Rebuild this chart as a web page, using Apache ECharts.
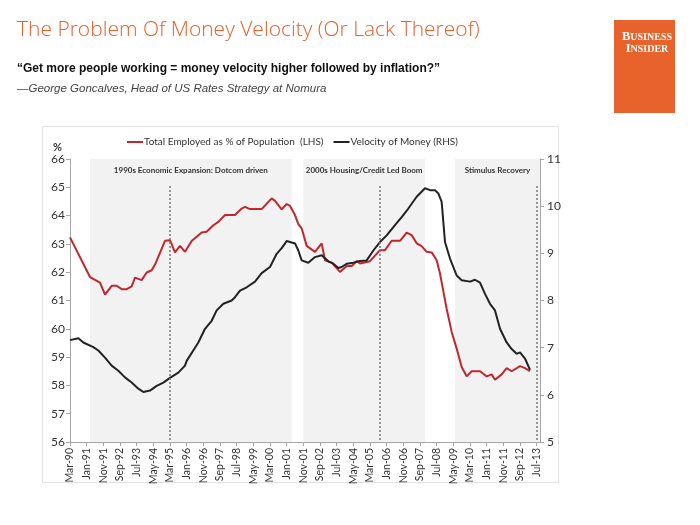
<!DOCTYPE html>
<html><head><meta charset="utf-8">
<script src="https://cdn.jsdelivr.net/npm/echarts@6/dist/echarts.min.js"></script>
<style>html,body{margin:0;padding:0;background:#fff;}#c{width:700px;height:525px;}</style>
</head><body><div id="c"></div>
<script>
// ---- Data ----
const empDates = ['Mar-90','Mar-91','Sep-91','Dec-91','Apr-92','Jul-92','Oct-92','Jan-93','Apr-93','Jun-93','Oct-93','Jan-94','Apr-94','Jun-94','Dec-94','Mar-95','Jun-95','Sep-95','Dec-95','Apr-96','Oct-96','Jan-97','May-97','Aug-97','Dec-97','Jun-98','Oct-98','Dec-98','Mar-99','Oct-99','Apr-00','Jun-00','Oct-00','Jan-01','Mar-01','Jun-01','Aug-01','Oct-01','Jan-02','Jun-02','Oct-02','Dec-02','Apr-03','Sep-03','Jan-04','Apr-04','Jul-04','Sep-04','Mar-05','Sep-05','Dec-05','Apr-06','Sep-06','Jan-07','Apr-07','Jul-07','Oct-07','Jan-08','Apr-08','Jul-08','Sep-08','Jan-09','Apr-09','Jul-09','Oct-09','Jan-10','Apr-10','Sep-10','Jan-11','Apr-11','Jun-11','Oct-11','Jan-12','Apr-12','Sep-12','Dec-12','Mar-13'];
const empValues = [63.23,61.83,61.63,61.21,61.52,61.52,61.40,61.40,61.50,61.81,61.72,61.99,62.07,62.27,63.11,63.13,62.70,62.93,62.72,63.10,63.40,63.43,63.66,63.78,64.02,64.02,64.25,64.31,64.23,64.23,64.61,64.52,64.22,64.41,64.34,64.02,63.70,63.55,62.93,62.72,63.02,62.42,62.34,62.01,62.22,62.22,62.39,62.31,62.39,62.78,62.78,63.11,63.11,63.40,63.31,63.02,62.92,62.72,62.70,62.42,61.95,60.71,59.89,59.30,58.65,58.32,58.50,58.50,58.32,58.39,58.20,58.39,58.61,58.50,58.68,58.61,58.50];

const velDates = ['Mar-90','Aug-90','Nov-90','May-91','Aug-91','Dec-91','Apr-92','Aug-92','Dec-92','Apr-93','Aug-93','Nov-93','Mar-94','Jul-94','Nov-94','Mar-95','Aug-95','Dec-95','Jan-96','Aug-96','Dec-96','Apr-97','Jul-97','Nov-97','Apr-98','Jun-98','Sep-98','Jan-99','Jun-99','Oct-99','Mar-00','Jul-00','Oct-00','Jan-01','Jun-01','Aug-01','Oct-01','Feb-02','Jun-02','Oct-02','Feb-03','May-03','Aug-03','Oct-03','Jan-04','May-04','Sep-04','Jan-05','May-05','Sep-05','Jan-06','Jun-06','Oct-06','Feb-07','Jul-07','Dec-07','Mar-08','Jun-08','Aug-08','Oct-08','Dec-08','Mar-09','Jul-09','Oct-09','Mar-10','Jun-10','Sep-10','Dec-10','Mar-11','Jun-11','Sep-11','Jan-12','Apr-12','Jul-12','Sep-12','Dec-12','Mar-13'];
const velValues = [7.16,7.20,7.11,7.01,6.94,6.79,6.62,6.51,6.37,6.26,6.13,6.06,6.09,6.19,6.26,6.36,6.47,6.62,6.72,7.11,7.40,7.57,7.79,7.93,8.00,8.07,8.21,8.28,8.40,8.58,8.71,8.99,9.11,9.26,9.21,9.06,8.85,8.80,8.92,8.96,8.83,8.78,8.69,8.71,8.78,8.80,8.84,8.85,9.06,9.24,9.38,9.60,9.77,9.95,10.20,10.38,10.34,10.34,10.27,10.09,9.24,8.89,8.53,8.43,8.40,8.44,8.38,8.14,7.93,7.79,7.40,7.11,6.97,6.87,6.90,6.77,6.53];

const periods = [
  {name:'1990s Economic Expansion: Dotcom driven', from:'Mar-91', to:'Apr-01'},
  {name:'2000s Housing/Credit Led Boom', from:'Nov-01', to:'Dec-07'},
  {name:'Stimulus Recovery', from:'Jun-09', to:'Sep-13'}
];
const recoveryMarks = ['Mar-95','Sep-05','Jul-13'];
const leftTicks = {min:56, max:66, interval:1};
const rightTicks = {min:5, max:11, interval:1};

// monthly category axis Mar-90 .. Sep-13
const MONTHS = ['Jan','Feb','Mar','Apr','May','Jun','Jul','Aug','Sep','Oct','Nov','Dec'];
const categories = [];
for (let m = 0; m <= 282; m++) {
  const k = 2 + m;
  const y = (1990 + Math.floor(k / 12)) % 100;
  categories.push(MONTHS[k % 12] + '-' + String(y).padStart(2, '0'));
}

const FONT = 'Lato, "Liberation Sans", sans-serif';
const RED = '#c1272d';
const chart = echarts.init(document.getElementById('c'), null, {renderer:'canvas'});

const empData = empDates.map((d, i) => [d, empValues[i]]);
const velData = velDates.map((d, i) => [d, velValues[i]]);

chart.setOption({
  animation: false,
  backgroundColor: '#fff',
  textStyle: {fontFamily: FONT},
  grid: {left: 70, right: 160, top: 159, bottom: 83},
  legend: {
    left: 122, top: 132, itemWidth: 16, itemHeight: 2, itemGap: 10, icon: 'rect',
    textStyle: {fontSize: 10, color: '#333', fontFamily: FONT, padding: [0,0,0,-4]},
    data: [
      {name: 'Total Employed as % of Population  (LHS)', itemStyle: {color: RED}},
      {name: 'Velocity of Money (RHS)', itemStyle: {color: '#222'}}
    ]
  },
  xAxis: {
    type: 'category', data: categories, boundaryGap: false,
    axisLine: {lineStyle: {color: '#a6a6a6'}},
    axisTick: {interval: 9, length: 4, lineStyle: {color: '#a6a6a6'}},
    axisLabel: {interval: 9, rotate: 90, fontSize: 10.5, color: '#333', margin: 6, fontFamily: FONT}
  },
  yAxis: [
    {type: 'value', min: leftTicks.min, max: leftTicks.max, interval: leftTicks.interval,
     name: '%', nameGap: 6, nameLocation: 'end',
     nameTextStyle: {fontSize: 11, fontWeight: 'bold', color: '#333', align: 'right', padding: [0, 8, 0, 0]},
     splitLine: {show: false},
     axisLine: {show: true, lineStyle: {color: '#a6a6a6'}},
     axisTick: {show: true, length: 4, lineStyle: {color: '#a6a6a6'}},
     axisLabel: {fontSize: 12, color: '#333', margin: 5, fontFamily: FONT}},
    {type: 'value', min: rightTicks.min, max: rightTicks.max, interval: rightTicks.interval,
     position: 'right', splitLine: {show: false},
     axisLine: {show: true, lineStyle: {color: '#a6a6a6'}},
     axisTick: {show: true, length: 4, lineStyle: {color: '#a6a6a6'}},
     axisLabel: {fontSize: 12, color: '#333', margin: 7, fontFamily: FONT}}
  ],
  series: [
    {
      name: 'Total Employed as % of Population  (LHS)', type: 'line', yAxisIndex: 0,
      data: empData, showSymbol: false, symbol: 'none', z: 3,
      lineStyle: {color: RED, width: 2}, itemStyle: {color: RED},
      markArea: {
        silent: true,
        itemStyle: {color: '#f2f2f2'},
        label: {show: true, position: 'insideTop', distance: 7, fontSize: 8, fontWeight: 'bold', color: '#333', fontFamily: FONT},
        data: periods.map(p => [{name: p.name, xAxis: p.from}, {xAxis: p.to}])
      },
      markLine: {
        silent: true, symbol: 'none',
        lineStyle: {color: '#777', type: [2, 2], width: 1.5},
        label: {show: false},
        data: recoveryMarks.map(d => [{coord: [d, 65.05]}, {coord: [d, leftTicks.min]}])
      }
    },
    {
      name: 'Velocity of Money (RHS)', type: 'line', yAxisIndex: 1,
      data: velData, showSymbol: false, symbol: 'none', z: 3,
      lineStyle: {color: '#222', width: 2}, itemStyle: {color: '#222'}
    }
  ],
  graphic: [
    {type: 'rect', z: -1, shape: {x: 42.5, y: 126.5, width: 516, height: 356},
     style: {fill: '#fff', stroke: '#e3e3e3', lineWidth: 1}},
    {type: 'text', left: 17, top: 20,
     style: {text: 'The Problem Of Money Velocity (Or Lack Thereof)', fill: '#e8602c', font: '300 21px "Open Sans", Lato, sans-serif'}},
    {type: 'text', left: 17, top: 63,
     style: {text: '“Get more people working = money velocity higher followed by inflation?”', fill: '#111', font: 'bold 12px "Liberation Sans", Arial, sans-serif'}},
    {type: 'text', left: 17, top: 83,
     style: {text: '—George Goncalves, Head of US Rates Strategy at Nomura', fill: '#444', font: 'italic 11.5px "Liberation Sans", Arial, sans-serif'}},
    {type: 'rect', shape: {x: 614, y: 20, width: 61, height: 93}, style: {fill: '#e8632b'}},
    {type: 'text', x: 647, y: 31,
     style: {text: '{a|B}{b|USINESS}\n{a|I}{b|NSIDER}', align: 'center', fill: '#fff', lineHeight: 12,
       rich: {a: {fontSize: 12.5, fontWeight: 'bold', fill: '#fff', fontFamily: '"Liberation Serif", serif', lineHeight: 12},
              b: {fontSize: 10, fontWeight: 'bold', fill: '#fff', fontFamily: '"Liberation Serif", serif', lineHeight: 12}}}},
    {type: 'text', left: 179, top: 187, style: {text: '4 years into\nrecovery', fill: '#555', font: '9px Lato, sans-serif', lineHeight: 11}},
    {type: 'text', left: 333, top: 189, style: {text: '4 years into\nrecovery', fill: '#555', font: '9px Lato, sans-serif', lineHeight: 11}},
    {type: 'text', left: 488, top: 186, style: {text: '4 years into\nrecovery', fill: '#555', font: '9px Lato, sans-serif', lineHeight: 11}}
  ]
});
</script></body></html>
